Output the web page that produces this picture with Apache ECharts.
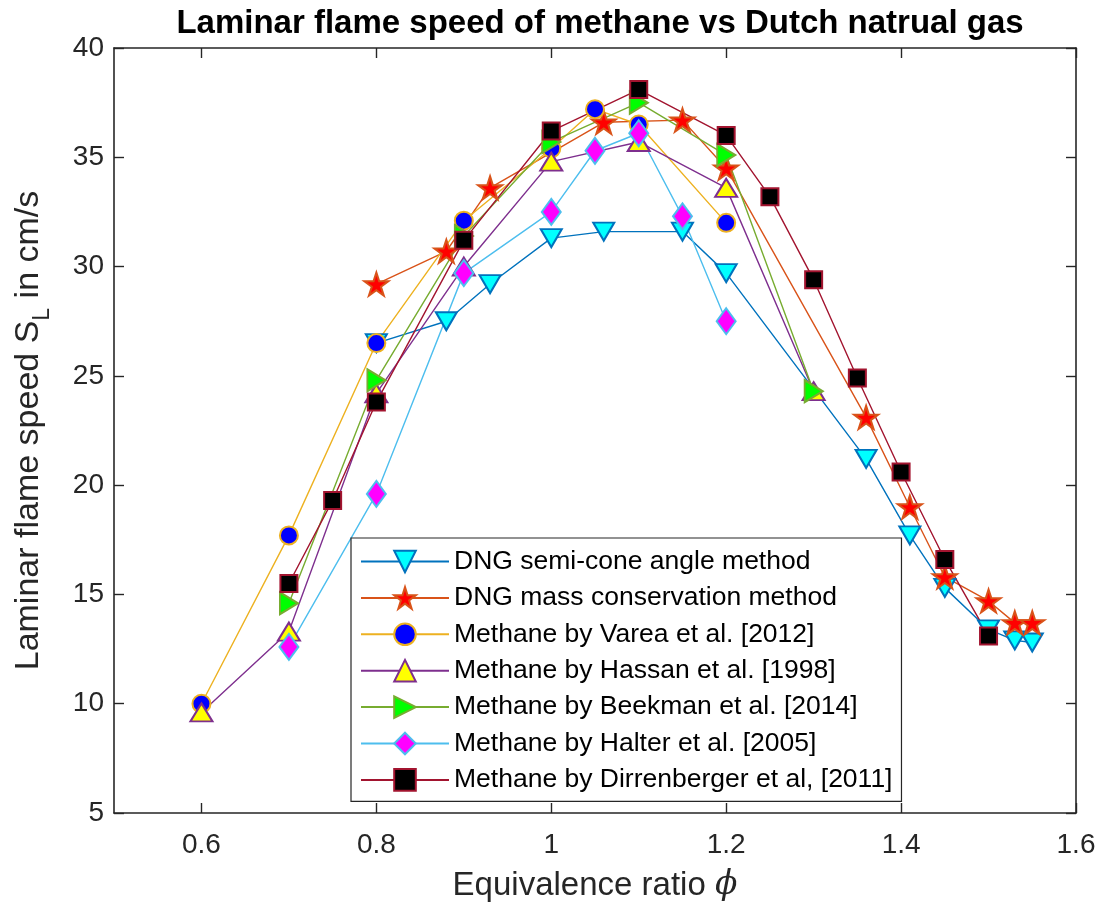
<!DOCTYPE html>
<html>
<head>
<meta charset="utf-8">
<script src="https://cdn.jsdelivr.net/npm/echarts@6/dist/echarts.min.js"></script>
<style>
  html, body { margin: 0; padding: 0; background: #fff; }
  #chart { width: 1097px; height: 909px; }
</style>
</head>
<body>
<div id="chart"></div>
<script>
// Equivalence ratio (phi) and laminar flame speed S_L [cm/s] per data set
const dngConePhi = [0.8, 0.88, 0.93, 1.0, 1.06, 1.15, 1.2, 1.36, 1.41, 1.45, 1.5, 1.53, 1.55];
const dngConeSL  = [26.5, 27.5, 29.2, 31.3, 31.6, 31.6, 29.7, 21.2, 17.7, 15.3, 13.4, 12.9, 12.8];

const dngMassPhi = [0.8, 0.88, 0.93, 1.06, 1.15, 1.2, 1.36, 1.41, 1.45, 1.5, 1.53, 1.55];
const dngMassSL  = [29.2, 30.7, 33.6, 36.6, 36.7, 34.5, 23.1, 19.0, 15.8, 14.7, 13.7, 13.7];

const vareaPhi = [0.6, 0.7, 0.8, 0.9, 1.0, 1.05, 1.1, 1.2];
const vareaSL  = [10.0, 17.7, 26.5, 32.1, 35.4, 37.2, 36.5, 32.0];

const hassanPhi = [0.6, 0.7, 0.8, 0.9, 1.0, 1.1, 1.2, 1.3];
const hassanSL  = [9.6, 13.3, 24.2, 30.0, 34.8, 35.7, 33.6, 24.3];

const beekmanPhi = [0.7, 0.8, 0.9, 1.0, 1.1, 1.2, 1.3];
const beekmanSL  = [14.6, 24.8, 31.4, 35.7, 37.5, 35.1, 24.3];

const halterPhi = [0.7, 0.8, 0.9, 1.0, 1.05, 1.1, 1.15, 1.2];
const halterSL  = [12.6, 19.6, 29.7, 32.5, 35.3, 36.1, 32.3, 27.5];

const dirrPhi = [0.7, 0.75, 0.8, 0.9, 1.0, 1.1, 1.2, 1.25, 1.3, 1.35, 1.4, 1.45, 1.5];
const dirrSL  = [15.5, 19.3, 23.8, 31.2, 36.2, 38.1, 36.0, 33.2, 29.4, 24.9, 20.6, 16.6, 13.1];

const seriesNames = [
  'DNG semi-cone angle method',
  'DNG mass conservation method',
  'Methane by Varea et al. [2012]',
  'Methane by Hassan et al. [1998]',
  'Methane by Beekman et al. [2014]',
  'Methane by Halter et al. [2005]',
  'Methane by Dirrenberger et al, [2011]'
];

const xTicks = [0.6, 0.8, 1.0, 1.2, 1.4, 1.6];
const yTicks = [5, 10, 15, 20, 25, 30, 35, 40];

const FONT = 'Liberation Sans, Arial, Helvetica, sans-serif';
const AXIS = '#262626';

// five-pointed star marker
const STAR = 'path://M0,-10 L2.245,-3.09 L9.51,-3.09 L3.633,1.18 L5.88,8.09 L0,3.82 L-5.88,8.09 L-3.633,1.18 L-9.51,-3.09 L-2.245,-3.09 Z';

function pairs(xs, ys) { return xs.map((x, i) => [x, ys[i]]); }

function lineSeries(name, xs, ys, marker) {
  return {
    name: name,
    type: 'line',
    data: pairs(xs, ys),
    symbol: marker.symbol,
    symbolSize: marker.size,
    symbolRotate: marker.rotate || 0,
    showAllSymbol: true,
    lineStyle: { color: marker.line, width: 1.4 },
    itemStyle: { color: marker.fill, borderColor: marker.line, borderWidth: 2 },
    emphasis: { disabled: true },
    animation: false
  };
}

const frameAxis = {
  axisLine: { show: true, onZero: false, lineStyle: { color: AXIS, width: 1.6 } },
  splitLine: { show: false }
};

const option = {
  animation: false,
  backgroundColor: '#fff',
  title: {
    text: 'Laminar flame speed of methane vs Dutch natrual gas',
    left: 595,
    top: 2,
    textAlign: 'center',
    textStyle: { fontFamily: FONT, fontWeight: 'bold', fontSize: 33, color: '#000' }
  },
  grid: { left: 114, right: 21, top: 48, bottom: 96, outerBoundsMode: 'none' },
  legend: {
    orient: 'vertical',
    left: 351,
    top: 538,
    data: seriesNames,
    selectedMode: false,
    backgroundColor: '#fff',
    borderColor: AXIS,
    borderWidth: 1.2,
    borderRadius: 0,
    padding: [10, 9, 8, 9],
    itemWidth: 88,
    itemHeight: 27,
    itemGap: 9.4,
    textStyle: { fontFamily: FONT, fontSize: 26.5, color: '#000', lineHeight: 27 }
  },
  xAxis: [
    Object.assign({}, frameAxis, {
      type: 'value', min: 0.5, max: 1.6, position: 'bottom',
      axisTick: { show: true, inside: true, length: 10, customValues: xTicks, lineStyle: { color: AXIS, width: 1.4 } },
      axisLabel: { customValues: xTicks, fontFamily: FONT, fontSize: 28, color: AXIS, margin: 18 },
      name: '{a|Equivalence ratio }{p|ϕ}',
      nameLocation: 'middle',
      nameGap: 56,
      nameTextStyle: {
        color: AXIS,
        rich: {
          a: { fontFamily: FONT, fontSize: 33, color: AXIS },
          p: { fontFamily: 'DejaVu Serif, serif', fontStyle: 'italic', fontSize: 33, color: AXIS }
        }
      }
    }),
    Object.assign({}, frameAxis, {
      type: 'value', min: 0.5, max: 1.6, position: 'top',
      axisTick: { show: true, inside: true, length: 10, customValues: xTicks, lineStyle: { color: AXIS, width: 1.4 } },
      axisLabel: { show: false }
    })
  ],
  yAxis: [
    Object.assign({}, frameAxis, {
      type: 'value', min: 5, max: 40, interval: 5, position: 'left',
      axisTick: { show: true, inside: true, length: 10, lineStyle: { color: AXIS, width: 1.4 } },
      axisLabel: { fontFamily: FONT, fontSize: 28, color: AXIS, margin: 10 },
      name: '{a|Laminar flame speed S}{b|L}{a| in cm/s}',
      nameLocation: 'middle',
      nameRotate: 90,
      nameGap: 60,
      nameTextStyle: {
        color: AXIS,
        rich: {
          a: { fontFamily: FONT, fontSize: 34, color: AXIS, lineHeight: 42, verticalAlign: 'top' },
          b: { fontFamily: FONT, fontSize: 23, color: AXIS, lineHeight: 23, padding: [21, 0, 0, 0], verticalAlign: 'bottom' }
        }
      }
    }),
    Object.assign({}, frameAxis, {
      type: 'value', min: 5, max: 40, interval: 5, position: 'right',
      axisTick: { show: true, inside: true, length: 10, lineStyle: { color: AXIS, width: 1.4 } },
      axisLabel: { show: false }
    })
  ],
  series: [
    lineSeries(seriesNames[0], dngConePhi, dngConeSL,
      { symbol: 'triangle', rotate: 180, size: [21, 18], fill: '#00FFFF', line: '#0072BD' }),
    lineSeries(seriesNames[1], dngMassPhi, dngMassSL,
      { symbol: STAR, size: [24, 23], fill: '#FF0000', line: '#D95319' }),
    lineSeries(seriesNames[2], vareaPhi, vareaSL,
      { symbol: 'circle', size: 18, fill: '#0000FF', line: '#EDB120' }),
    lineSeries(seriesNames[3], hassanPhi, hassanSL,
      { symbol: 'triangle', size: [22, 18], fill: '#FFFF00', line: '#7E2F8E' }),
    lineSeries(seriesNames[4], beekmanPhi, beekmanSL,
      { symbol: 'triangle', rotate: -90, size: [22, 18], fill: '#00FF00', line: '#77AC30' }),
    lineSeries(seriesNames[5], halterPhi, halterSL,
      { symbol: 'diamond', size: [19, 26], fill: '#FF00FF', line: '#4DBEEE' }),
    lineSeries(seriesNames[6], dirrPhi, dirrSL,
      { symbol: 'rect', size: 17, fill: '#000000', line: '#A2142F' })
  ]
};

const chart = echarts.init(document.getElementById('chart'), null, { renderer: 'canvas' });
chart.setOption(option);
</script>
</body>
</html>
